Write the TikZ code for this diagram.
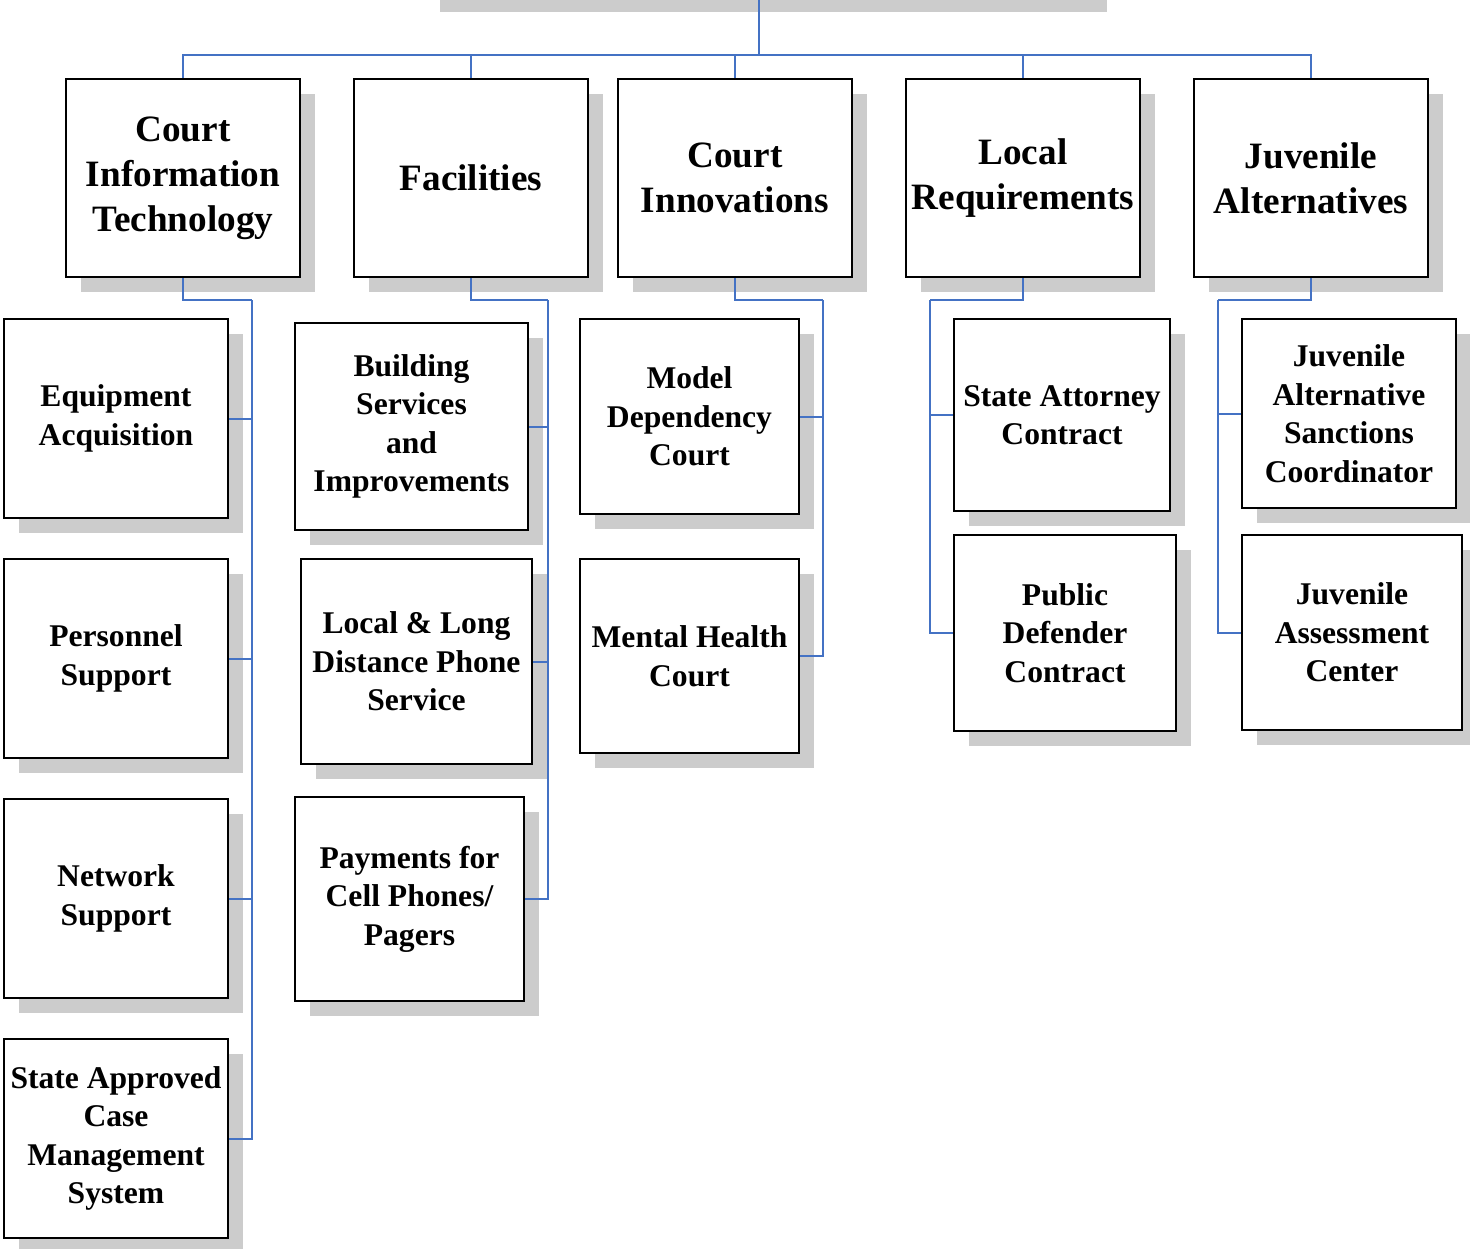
\documentclass[tikz,border=0pt]{standalone}
\usepackage{fontspec}
\setmainfont{Liberation Serif}
\usetikzlibrary{shadows}

\definecolor{linkblue}{HTML}{4472C4}
\definecolor{shadowgray}{HTML}{CCCCCC}

\begin{document}
\begin{tikzpicture}[
    x=1pt, y=-1pt,
    box/.style={draw, line width=2pt, fill=white, inner sep=0pt, align=center,
      drop shadow={fill=shadowgray, opacity=1, shadow xshift=15pt, shadow yshift=-15pt}},
    topbox/.style={box, minimum width=234pt, minimum height=198pt,
      font=\bfseries\fontsize{37.2}{45}\selectfont},
    subbox/.style={box, font=\bfseries\fontsize{31.6}{38.5}\selectfont},
    conn/.style={draw=linkblue, line width=2pt},
  ]
  \useasboundingbox (0,0) rectangle (1470,1248);

  % shadow of the box above the page edge
  \fill[shadowgray] (440,0) rectangle (1107,12);

  % first level
  \node[topbox] (cit)  at (183,178)  {Court\\Information\\Technology};
  \node[topbox] (fac)  at (471,178)  {Facilities};
  \node[topbox] (inno) at (735,178)  {Court\\Innovations};
  \node[topbox] (loc)  at (1023,178) {Local\\Requirements};
  \node[topbox] (juv)  at (1311,178) {Juvenile\\Alternatives};

  % second level
  \node[subbox, minimum width=224pt, minimum height=199pt] (equip) at (116,418.5)  {Equipment\\Acquisition};
  \node[subbox, minimum width=224pt, minimum height=199pt] (pers)  at (116,658.5)  {Personnel\\Support};
  \node[subbox, minimum width=224pt, minimum height=199pt] (net)   at (116,898.5)  {Network\\Support};
  \node[subbox, minimum width=224pt, minimum height=199pt] (cms)   at (116,1138.5) {State Approved\\Case\\Management\\System};

  \node[subbox, minimum width=233pt, minimum height=207pt] (build) at (411.5,426.5) {Building\\Services\\and\\Improvements};
  \node[subbox, minimum width=231pt, minimum height=205pt] (phone) at (416.5,661.5) {Local \& Long\\Distance Phone\\Service};
  \node[subbox, minimum width=229pt, minimum height=204pt] (pay)   at (409.5,899)   {Payments for\\Cell Phones/\\Pagers};

  \node[subbox, minimum width=219pt, minimum height=195pt] (model)  at (689.5,416.5) {Model\\Dependency\\Court};
  \node[subbox, minimum width=219pt, minimum height=194pt] (mental) at (689.5,656)   {Mental Health\\Court};

  \node[subbox, minimum width=216pt, minimum height=192pt] (sa) at (1062,415) {State Attorney\\Contract};
  \node[subbox, minimum width=222pt, minimum height=196pt] (pd) at (1065,633) {Public\\Defender\\Contract};

  \node[subbox, minimum width=214pt, minimum height=189pt] (jasc) at (1349,413.5) {Juvenile\\Alternative\\Sanctions\\Coordinator};
  \node[subbox, minimum width=220pt, minimum height=195pt] (jac)  at (1352,632.5) {Juvenile\\Assessment\\Center};

  % connectors
  \coordinate (root) at (759,0);
  \coordinate (hub) at (759,55);
  \draw[conn] (root) -- (hub);
  \foreach \t in {cit,fac,inno,loc,juv}
    \draw[conn] (hub) -| (\t.north);

  \coordinate (citbus)  at (252,300);
  \coordinate (facbus)  at (548,300);
  \coordinate (innobus) at (823,300);
  \coordinate (locbus)  at (930,300);
  \coordinate (juvbus)  at (1218,300);

  \draw[conn] (cit.south) |- (citbus);
  \foreach \c in {equip,pers,net,cms}
    \draw[conn] (citbus) |- (\c.east);
  \draw[conn] (fac.south) |- (facbus);
  \foreach \c in {build,phone,pay}
    \draw[conn] (facbus) |- (\c.east);
  \draw[conn] (inno.south) |- (innobus);
  \foreach \c in {model,mental}
    \draw[conn] (innobus) |- (\c.east);
  \draw[conn] (loc.south) |- (locbus);
  \foreach \c in {sa,pd}
    \draw[conn] (locbus) |- (\c.west);
  \draw[conn] (juv.south) |- (juvbus);
  \foreach \c in {jasc,jac}
    \draw[conn] (juvbus) |- (\c.west);
\end{tikzpicture}
\end{document}
